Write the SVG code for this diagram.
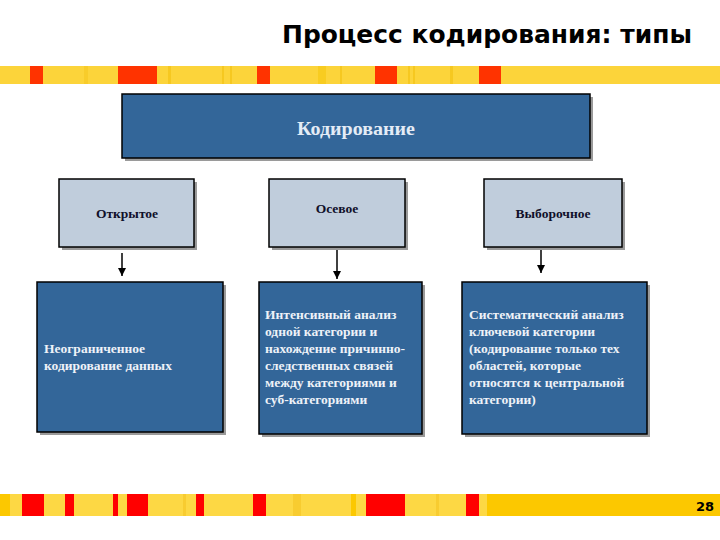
<svg xmlns="http://www.w3.org/2000/svg" width="720" height="540" viewBox="0 0 720 540">
<defs>
<marker id="ah" markerWidth="8" markerHeight="8" refX="8" refY="4" orient="auto" markerUnits="userSpaceOnUse" viewBox="0 0 8 8">
<path d="M0,0 L8,4 L0,8 Z" fill="#000"/>
</marker>
<style>
.title{font-family:"DejaVu Sans","Liberation Sans",sans-serif;font-weight:bold;font-size:25px;fill:#000}
.shadow{fill:#9a9a9a}
.dark{fill:#336699;stroke:#000;stroke-width:1.5}
.light{fill:#c0cddc;stroke:#000;stroke-width:1.5}
.serif{font-family:"Liberation Serif","DejaVu Serif","Times New Roman",serif;font-weight:bold}
.tw{font-size:13.5px;fill:#eef2f8}
.tb{font-size:13.5px;fill:#10102a;text-anchor:middle}
.conn{stroke:#000;stroke-width:1.5;fill:none;marker-end:url(#ah)}
</style>
</defs>
<rect width="720" height="540" fill="#fff"/>
<text class="title" x="282" y="43" textLength="410" lengthAdjust="spacingAndGlyphs">Процесс кодирования: типы</text>
<g id="top-bar">
<rect x="0" y="66" width="720" height="18" fill="#fcd43a"/>
<rect x="84" y="66" width="4" height="18" fill="#f8cc2a"/>
<rect x="168" y="66" width="3" height="18" fill="#f6c820"/>
<rect x="222" y="66" width="2" height="18" fill="#f6c820"/>
<rect x="230" y="66" width="2" height="18" fill="#f6c820"/>
<rect x="318" y="66" width="8" height="18" fill="#f8cc20"/>
<rect x="340" y="66" width="2" height="18" fill="#f6c820"/>
<rect x="408" y="66" width="2" height="18" fill="#f6c820"/>
<rect x="413" y="66" width="2" height="18" fill="#f6c820"/>
<rect x="450" y="66" width="3" height="18" fill="#f6c820"/>
<rect x="30" y="66" width="13" height="18" fill="#ff3300"/>
<rect x="118" y="66" width="39" height="18" fill="#ff3300"/>
<rect x="257" y="66" width="13" height="18" fill="#ff3300"/>
<rect x="375" y="66" width="22" height="18" fill="#ff3300"/>
<rect x="479" y="66" width="22" height="18" fill="#ff3300"/>
</g>
<g id="bottom-bar">
<rect x="0" y="494" width="720" height="22" fill="#fdd844"/>
<rect x="0" y="494" width="10" height="22" fill="#fcc800"/>
<rect x="183" y="494" width="3" height="22" fill="#f8cc30"/>
<rect x="293" y="494" width="8" height="22" fill="#f8cc30"/>
<rect x="351" y="494" width="5" height="22" fill="#fcc800"/>
<rect x="436" y="494" width="3" height="22" fill="#f8cc30"/>
<rect x="22" y="494" width="22" height="22" fill="#ff0000"/>
<rect x="65" y="494" width="9" height="22" fill="#ff0000"/>
<rect x="113" y="494" width="5" height="22" fill="#ff0000"/>
<rect x="127" y="494" width="21" height="22" fill="#ff0000"/>
<rect x="196" y="494" width="8" height="22" fill="#ff0000"/>
<rect x="253" y="494" width="13" height="22" fill="#ff0000"/>
<rect x="366" y="494" width="39" height="22" fill="#ff0000"/>
<rect x="466" y="494" width="13" height="22" fill="#ff0000"/>
<rect x="487" y="494" width="233" height="22" fill="#fcc800"/>
<text x="705" y="511" font-family="DejaVu Sans, sans-serif" font-weight="bold" font-size="13" fill="#000" text-anchor="middle">28</text>
</g>
<g id="connectors">
<line class="conn" x1="122" y1="253" x2="122" y2="276"/>
<line class="conn" x1="337" y1="247" x2="337" y2="279"/>
<line class="conn" x1="541" y1="247" x2="541" y2="273"/>
</g>
<g id="node-root">
<rect class="shadow" x="125" y="97" width="468" height="64"/>
<rect class="dark" x="122" y="94" width="468" height="64"/>
<text class="serif" x="356" y="135" font-size="18" fill="#e4ecf6" text-anchor="middle" textLength="118" lengthAdjust="spacingAndGlyphs">Кодирование</text>
</g>
<g id="node-open">
<rect class="shadow" x="62" y="182" width="135" height="68"/>
<rect class="light" x="59" y="179" width="135" height="68"/>
<text class="serif tb" x="127" y="218">Открытое</text>
</g>
<g id="node-axial">
<rect class="shadow" x="272" y="182" width="136" height="68"/>
<rect class="light" x="269" y="179" width="136" height="68"/>
<text class="serif tb" x="337" y="213">Осевое</text>
</g>
<g id="node-selective">
<rect class="shadow" x="487" y="182" width="138" height="68"/>
<rect class="light" x="484" y="179" width="138" height="68"/>
<text class="serif tb" x="553" y="218">Выборочное</text>
</g>
<g id="node-open-desc">
<rect class="shadow" x="40" y="285" width="186" height="150"/>
<rect class="dark" x="37" y="282" width="186" height="150"/>
<text class="serif tw" x="44" y="353">Неограниченное</text>
<text class="serif tw" x="44" y="370">кодирование данных</text>
</g>
<g id="node-axial-desc">
<rect class="shadow" x="262" y="285" width="163" height="152"/>
<rect class="dark" x="259" y="282" width="163" height="152"/>
<text class="serif tw" x="265" y="319">Интенсивный анализ</text>
<text class="serif tw" x="265" y="336">одной категории и</text>
<text class="serif tw" x="265" y="353">нахождение причинно-</text>
<text class="serif tw" x="265" y="370">следственных связей</text>
<text class="serif tw" x="265" y="387">между категориями и</text>
<text class="serif tw" x="265" y="404">суб-категориями</text>
</g>
<g id="node-selective-desc">
<rect class="shadow" x="465" y="285" width="185" height="152"/>
<rect class="dark" x="462" y="282" width="185" height="152"/>
<text class="serif tw" x="469" y="319">Систематический анализ</text>
<text class="serif tw" x="469" y="336">ключевой категории</text>
<text class="serif tw" x="469" y="353">(кодирование только тех</text>
<text class="serif tw" x="469" y="370">областей, которые</text>
<text class="serif tw" x="469" y="387">относятся к центральной</text>
<text class="serif tw" x="469" y="404">категории)</text>
</g>
</svg>
